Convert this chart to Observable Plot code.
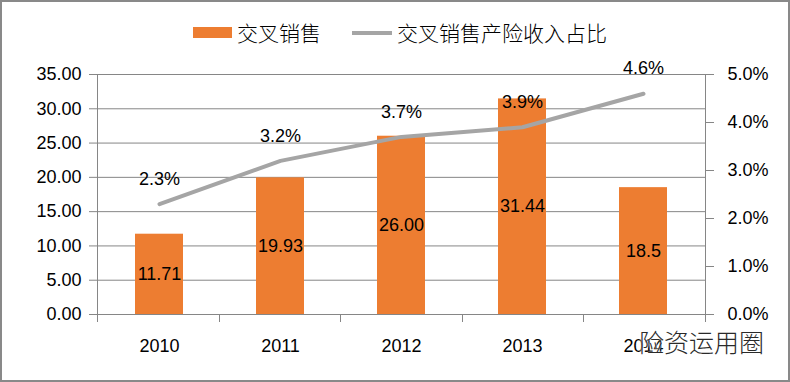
<!DOCTYPE html>
<html>
<head>
<meta charset="utf-8">
<script src="https://cdn.jsdelivr.net/npm/d3@7"></script>
<script src="https://cdn.jsdelivr.net/npm/@observablehq/plot@0.6"></script>
<style>
  html, body { margin: 0; padding: 0; background: #fff; }
  #wrap { position: relative; width: 790px; height: 382px; overflow: hidden; background: #fff; }
  #border { position: absolute; left: 0; top: 0; width: 790px; height: 382px; box-sizing: border-box; border: 2px solid #898989; pointer-events: none; z-index: 5; }
  .leg { position: absolute; font-family: "Noto Sans CJK SC", sans-serif; font-size: 21px; line-height: 24px; color: #000; white-space: nowrap; font-weight: 300; z-index: 3; }
  #chart { position: absolute; left: 0; top: 42px; }
  #wm { position: absolute; left: 639px; top: 326px; font-family: "Noto Sans CJK SC", sans-serif; font-size: 25px; line-height: 30px; color: #2a2a2a; font-weight: 300; text-shadow: 0 0 2px #fff, 0 0 2px #fff; z-index: 4; white-space: nowrap; }
</style>
</head>
<body>
<div id="wrap">
  <div id="border"></div>
  <div class="leg" style="left:193px;top:27px;width:39px;height:11px;background:#ED7D31;"></div>
  <div class="leg" id="leg1" style="left:237px;top:20px;"></div>
  <div class="leg" style="left:352px;top:31px;width:40px;height:4px;background:#A5A5A5;"></div>
  <div class="leg" id="leg2" style="left:397px;top:20px;"></div>
  <div id="chart"></div>
  <div id="wm">险资运用圈</div>
</div>
<script>
const years = ["2010", "2011", "2012", "2013", "2014"];
const crossSales = [11.71, 19.93, 26.00, 31.44, 18.5];
const crossSalesLabels = ["11.71", "19.93", "26.00", "31.44", "18.5"];
const propertyShare = [2.3, 3.2, 3.7, 3.9, 4.6]; // percent
const leftTicks = [0, 5, 10, 15, 20, 25, 30, 35];
const rightTicks = [0, 1, 2, 3, 4, 5];
const seriesNames = ["交叉销售", "交叉销售产险收入占比"];

document.getElementById("leg1").textContent = seriesNames[0];
document.getElementById("leg2").textContent = seriesNames[1];

const leftMax = 35, rightMax = 5;
const ratio = leftMax / rightMax;

const rows = years.map((y, i) => ({
  year: y,
  sales: crossSales[i],
  label: crossSalesLabels[i],
  share: propertyShare[i]
}));

const boundaryTicks = (index, scales, values, dimensions) => {
  const x0 = dimensions.marginLeft;
  const x1 = dimensions.width - dimensions.marginRight;
  const yb = dimensions.height - dimensions.marginBottom;
  const n = years.length;
  const g = d3.create("svg:g").attr("stroke", "#868686").attr("shape-rendering", "crispEdges");
  for (let i = 0; i <= n; i++) {
    const xx = Math.round(x0 + (x1 - x0) * i / n) + 0.5;
    g.append("line").attr("x1", xx).attr("x2", xx).attr("y1", yb).attr("y2", yb + 8);
  }
  return g.node();
};

const chart = Plot.plot({
  width: 790,
  height: 340,
  marginTop: 32,
  marginLeft: 97,
  marginRight: 85,
  marginBottom: 68,
  style: { fontFamily: "'Liberation Sans', Arial, sans-serif", fontSize: "18px", color: "#000", background: "transparent" },
  x: { type: "band", domain: years, paddingInner: 0.6, paddingOuter: 0.3, align: 0.5 },
  y: { domain: [0, leftMax] },
  marks: [
    Plot.gridY(leftTicks, { stroke: "#868686", strokeOpacity: 1, strokeWidth: 1 }),
    Plot.frame({ stroke: "#868686" }),
    Plot.barY(rows, { x: "year", y: "sales", fill: "#ED7D31" }),
    Plot.line(rows, { x: "year", y: d => d.share * ratio, stroke: "#A5A5A5", strokeWidth: 4 }),
    Plot.text(rows, { x: "year", y: d => d.sales / 2, text: "label", fill: "#000", fontSize: 18 }),
    Plot.text(rows, { x: "year", y: d => d.share * ratio, dy: -25, text: d => d.share.toFixed(1) + "%", fill: "#000", fontSize: 18 }),
    Plot.axisY(leftTicks, { anchor: "left", tickSize: 8, tickPadding: 8, stroke: "#868686", tickFormat: d => d.toFixed(2), label: null, fontSize: 18 }),
    Plot.axisY(rightTicks.map(t => t * ratio), { anchor: "right", tickSize: 8, tickPadding: 14, stroke: "#868686", tickFormat: d => (d / ratio).toFixed(1) + "%", label: null, fontSize: 18 }),
    Plot.axisX({ tickSize: 0, tickPadding: 25, label: null, fontSize: 18 }),
    boundaryTicks
  ]
});
document.getElementById("chart").appendChild(chart);
</script>
</body>
</html>
